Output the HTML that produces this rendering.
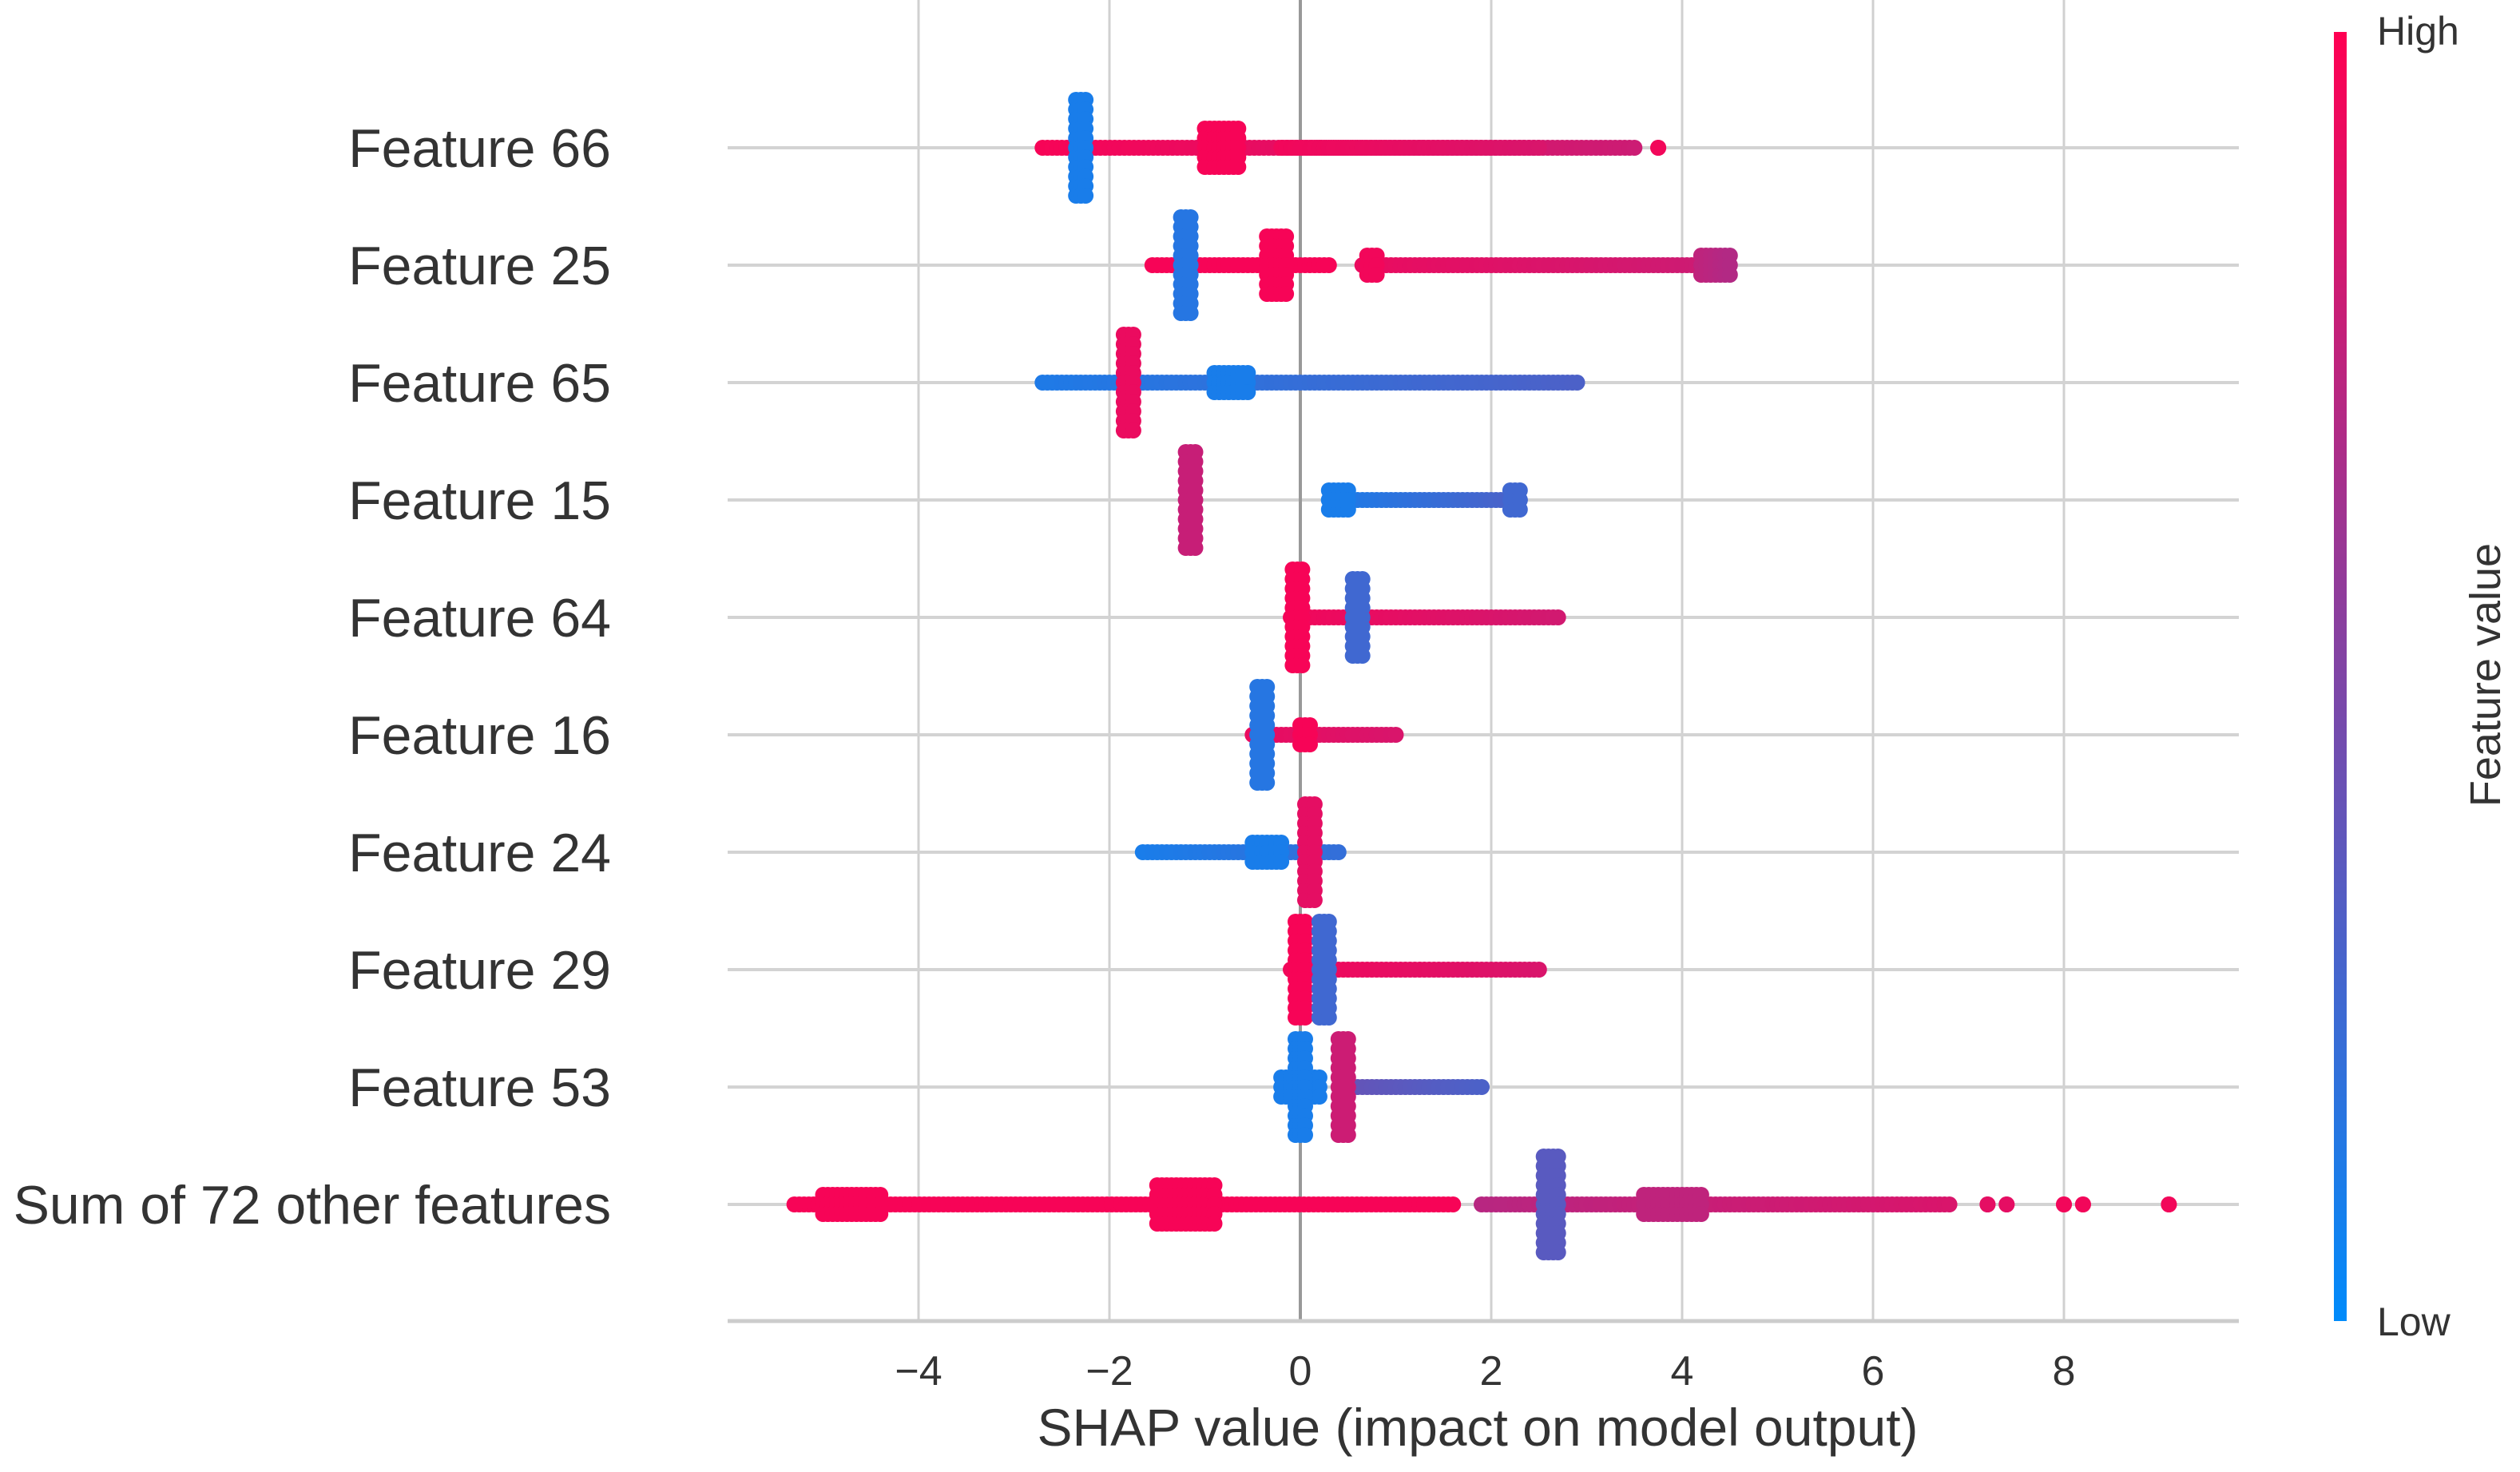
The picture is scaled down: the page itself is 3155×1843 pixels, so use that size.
<!DOCTYPE html>
<html><head><meta charset="utf-8"><style>
html,body{margin:0;padding:0;background:#fff;}
svg{display:block;font-family:"Liberation Sans",Arial,sans-serif;}
</style></head><body>
<svg id="chart" width="3155" height="1843" viewBox="0 0 3155 1843" xmlns="http://www.w3.org/2000/svg">
<defs><linearGradient id="cbar" x1="0" y1="1" x2="0" y2="0">
<stop offset="0" stop-color="#008bfb"/><stop offset="0.5" stop-color="#7f45a6"/><stop offset="1" stop-color="#ff0052"/></linearGradient></defs>
<g id="grid"></g>
<g id="dots"></g>
<g id="labels"></g>
<g id="ticks"></g>
<text x="1850" y="1810" font-size="66" fill="#333" text-anchor="middle">SHAP value (impact on model output)</text>
<rect x="2922" y="40" width="16" height="1614" fill="url(#cbar)"/>
<text x="2976" y="56" font-size="50" fill="#333">High</text>
<text x="2976" y="1672" font-size="50" fill="#333">Low</text>
<text x="3130" y="845" font-size="54" fill="#333" text-anchor="middle" transform="rotate(-90 3130 845)">Feature value</text>
</svg>
<script>
const features = ["Feature 66","Feature 25","Feature 65","Feature 15","Feature 64","Feature 16","Feature 24","Feature 29","Feature 53","Sum of 72 other features"];
const xTicks = [-4,-2,0,2,4,6,8];
const xTickLabels = ["\u22124","\u22122","0","2","4","6","8"];
// clusters per feature: [shapStart, shapEnd, featureValueStart, stackHalfHeight, featureValueEnd]
const f66 = [[-2.7,3.5,0.97,0,0.8],[-0.2,2.5,0.95,0,0.85],[3.75,3.75,0.95,0,0.95],[-1.0,-0.65,0.97,2,0.97],[-2.35,-2.25,0.1,5,0.1]];
const f25 = [[-1.55,0.3,0.97,0,0.97],[0.65,4.3,0.92,0,0.8],[4.2,4.5,0.75,1,0.7],[0.7,0.8,0.95,1,0.95],[-0.35,-0.15,0.97,3,0.97],[-1.25,-1.15,0.15,5,0.15]];
const f65 = [[-2.7,2.9,0.12,0,0.3],[-0.9,-0.55,0.1,1,0.1],[-1.85,-1.75,0.92,5,0.92]];
const f15 = [[0.3,2.3,0.1,0,0.3],[0.3,0.5,0.1,1,0.1],[2.2,2.3,0.25,1,0.25],[-1.2,-1.1,0.78,5,0.78]];
const f64 = [[-0.1,2.7,0.95,0,0.82],[0.55,0.65,0.25,4,0.25],[-0.08,0.02,0.97,5,0.97]];
const f16 = [[-0.5,1.0,0.92,0,0.85],[0.0,0.1,0.97,1,0.97],[-0.45,-0.35,0.15,5,0.15]];
const f24 = [[-1.65,0.4,0.1,0,0.2],[-0.5,-0.2,0.1,1,0.1],[0.05,0.15,0.9,5,0.9]];
const f29 = [[-0.1,2.5,0.95,0,0.85],[-0.05,0.05,0.97,5,0.97],[0.2,0.3,0.25,5,0.25]];
const f53 = [[0.5,1.9,0.4,0,0.3],[-0.2,0.2,0.1,1,0.1],[0.4,0.5,0.8,5,0.8],[-0.05,0.05,0.1,5,0.1]];
const fSum = [[-5.3,1.6,0.97,0,0.97],[-5.0,-4.4,0.97,1,0.97],[-1.5,-0.9,0.97,2,0.97],[1.9,6.8,0.72,0,0.85],[3.6,4.2,0.75,1,0.75],[7.2,7.2,0.9,0,0.9],[7.4,7.4,0.9,0,0.9],[8.0,8.0,0.95,0,0.95],[8.2,8.2,0.95,0,0.95],[9.1,9.1,0.95,0,0.95],[2.55,2.7,0.35,5,0.35]];
const clusters = [f66,f25,f65,f15,f64,f16,f24,f29,f53,fSum];

const NS="http://www.w3.org/2000/svg";
const X0=1628, UNIT=119.5, Y0=185, ROW=147, LEFT=911, RIGHT=2803, BOTTOM=1654;
const xs=v=>X0+v*UNIT, ys=i=>Y0+i*ROW;
function color(t){
  const lo=[0,139,251], mid=[127,69,166], hi=[255,0,82];
  let a,b,u; if(t<0.5){a=lo;b=mid;u=t/0.5;}else{a=mid;b=hi;u=(t-0.5)/0.5;}
  return "rgb("+a.map((c,k)=>Math.round(c+(b[k]-c)*u)).join(",")+")";
}
function mk(tag,attrs,parent){const e=document.createElementNS(NS,tag);for(const k in attrs)e.setAttribute(k,attrs[k]);parent.appendChild(e);return e;}
const grid=document.getElementById("grid"), dots=document.getElementById("dots"), labels=document.getElementById("labels"), ticks=document.getElementById("ticks");
xTicks.forEach((v,i)=>{
  const l=mk("line",{x1:xs(v),x2:xs(v),y1:0,y2:BOTTOM,stroke:"#d0d0d0","stroke-width":3},grid);
  
  
  const t=mk("text",{x:xs(v),y:1734,"font-size":52,fill:"#333","text-anchor":"middle"},ticks);
  t.textContent=xTickLabels[i];
  
  
});
features.forEach((f,i)=>{
  const l=mk("line",{x1:LEFT,x2:RIGHT,y1:ys(i),y2:ys(i),stroke:"#d3d3d3","stroke-width":4},grid);
  
  
  const t=mk("text",{x:765,y:ys(i)+24,"font-size":68,fill:"#333","text-anchor":"end"},labels);
  t.textContent=f;
  
  
});
const zl=mk("line",{x1:X0,x2:X0,y1:0,y2:BOTTOM,stroke:"#999","stroke-width":4},grid);


const ax=mk("line",{x1:LEFT,x2:RIGHT,y1:BOTTOM,y2:BOTTOM,stroke:"#cccccc","stroke-width":5},grid);


clusters.forEach((cl,i)=>{
  cl.forEach(c=>{
    const [a,b,fv,h,fv2]=c;
    const g=mk("g",{},dots);
    
    
    const x1=xs(a), x2=xs(b); const n=Math.max(1,Math.round((x2-x1)/6));
    for(let k=0;k<=n;k++){
      const u=k/n, x=x1+(x2-x1)*u, col=color(fv+(fv2-fv)*u);
      for(let j=-h;j<=h;j++){ mk("circle",{cx:x.toFixed(1),cy:ys(i)+j*12,r:10,fill:col},g); }
    }
  });
});
</script>
</body></html>
